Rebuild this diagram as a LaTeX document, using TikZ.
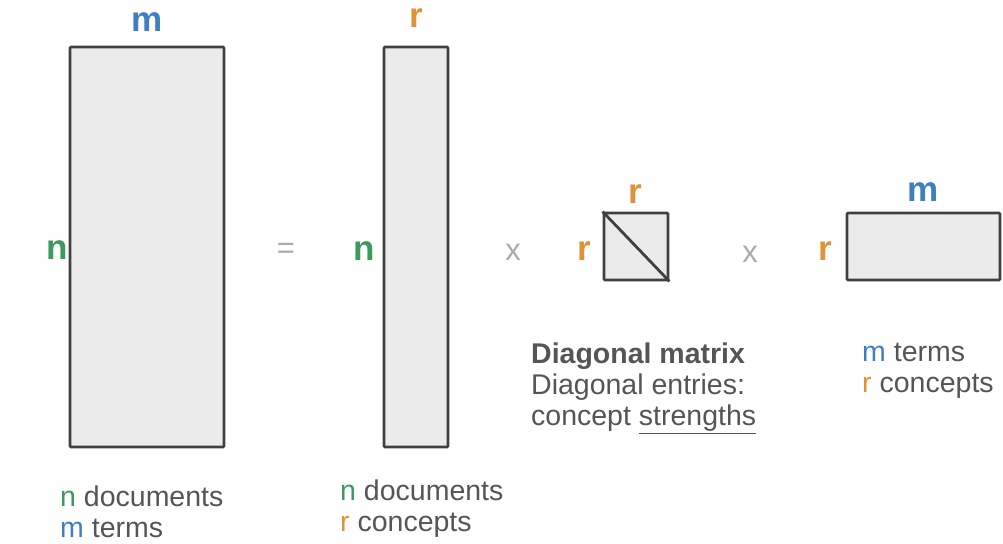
\documentclass[tikz,border=0pt]{standalone}
\usepackage{fontspec}
\setmainfont{Liberation Sans}
\definecolor{termblue}{HTML}{3D7FC0}
\definecolor{docgreen}{HTML}{3C9A5F}
\definecolor{conorange}{HTML}{E0913A}
\definecolor{txtgray}{HTML}{555555}
\definecolor{opgray}{HTML}{ABABAB}
\tikzset{
    mat/.style={draw=black!75, line width=2.8pt, fill=black!8, rounded corners=1pt, inner sep=0pt},
    dimlabel/.style={font=\fontsize{35}{35}\selectfont\bfseries, inner sep=0pt},
    optext/.style={text=opgray, font=\fontsize{31}{31}\selectfont, inner sep=0pt},
    note/.style={text=txtgray, font=\fontsize{28.5}{31}\selectfont, align=left, anchor=north west, inner sep=0pt}
}
\begin{document}
\begin{tikzpicture}[x=1pt, y=-1pt]
    \useasboundingbox (0,0) rectangle (1003,543);

    % document-term matrix
    \node[mat, minimum width=154pt, minimum height=400pt] (A) at (147,247) {};
    \node[dimlabel, text=termblue] (Am) at (147,22) {m};
    \node[dimlabel, text=docgreen] (An) at (57,250) {n};

    \node[optext] (eq) at (286,251) {=};

    % document-concept matrix
    \node[mat, minimum width=64pt, minimum height=400pt] (U) at (416,247) {};
    \node[dimlabel, text=conorange] (Ur) at (416,18) {r};
    \node[dimlabel, text=docgreen] (Un) at (364,251) {n};

    \node[optext] (times1) at (513,252) {x};

    % diagonal matrix
    \node[mat, minimum width=64pt, minimum height=67pt] (S) at (636,246.5) {};
    \draw[black!75, line width=2.8pt] (S.north west) -- (S.south east);
    \node[dimlabel, text=conorange] (Sr) at (635,194) {r};
    \node[dimlabel, text=conorange] (Sl) at (584,251) {r};

    \node[optext] (times2) at (750,254) {x};

    % concept-term matrix
    \node[mat, minimum width=153pt, minimum height=67pt] (V) at (923.5,246.5) {};
    \node[dimlabel, text=termblue] (Vm) at (923,192) {m};
    \node[dimlabel, text=conorange] (Vr) at (825,251) {r};

    % captions
    \node[note] (capA) at (60,486) {\textcolor{docgreen}{n} documents\\\textcolor{termblue}{m} terms};
    \node[note] (capU) at (340,480) {\textcolor{docgreen}{n} documents\\\textcolor{conorange}{r} concepts};
    \node[note] (capS) at (531,343) {\textbf{Diagonal matrix}\\Diagonal entries:\\concept \underline{strengths}};
    \node[note] (capV) at (862,343) {\textcolor{termblue}{m} terms\\\textcolor{conorange}{r} concepts};
\end{tikzpicture}
\end{document}
